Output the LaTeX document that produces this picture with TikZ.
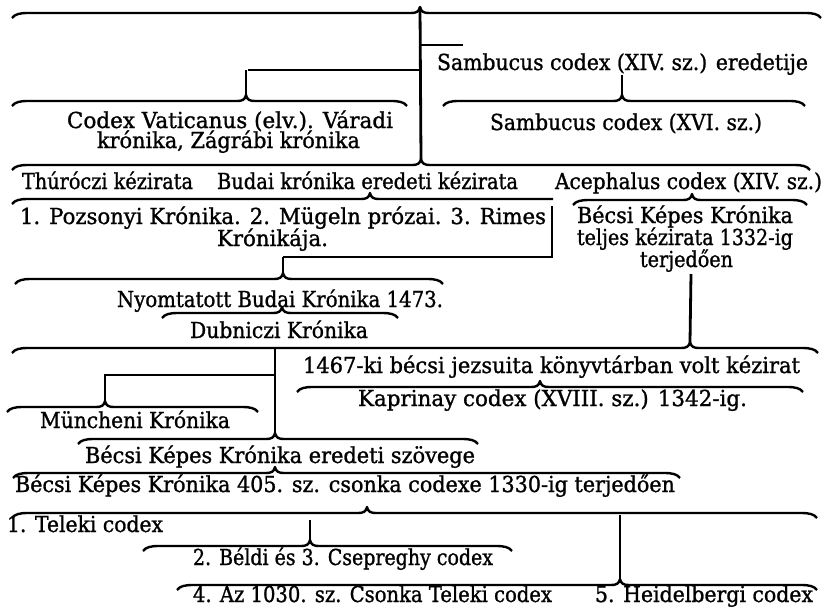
\documentclass[tikz,border=0pt]{standalone}
\usepackage{fontspec}
\setmainfont{DejaVu Serif}[FakeBold=1.2]
\usepackage{graphicx}
\newcommand\fw[2]{\resizebox{#1pt}{\height}{#2}}
% brace: x1, xc, x2, y, name of cusp coordinate
\newcommand\obr[5]{%
  \coordinate (#5) at (#2,#4-6);
  \draw[brc] (#1,#4+5) .. controls (#1+3,#4+1) and (#1+8,#4) .. (#1+16,#4) -- (#2-9,#4)
    .. controls (#2-4,#4) and (#2-1,#4-1) .. (#5)
    .. controls (#2+1,#4-1) and (#2+4,#4) .. (#2+9,#4) -- (#3-16,#4)
    .. controls (#3-8,#4) and (#3-3,#4+1) .. (#3,#4+5);}
\begin{document}
\begin{tikzpicture}[x=1pt,y=-1pt,
  brc/.style={line width=2.4pt,line join=round},
  conn/.style={line width=2.8pt},
  tx/.style={inner sep=0pt,outer sep=0pt,anchor=base west,font=\fontsize{22}{24}\selectfont}]
\useasboundingbox (0,0) rectangle (825,606);

% ---------- texts ----------
\node[tx] (t1) at (437,70) {\fw{371}{Sambucus codex (XIV. sz.) eredetije}};
\node[tx] (t2) at (67,128) {\fw{326}{Codex Vaticanus (elv.). Váradi}};
\node[tx] (t3) at (97,148) {\fw{263}{krónika, Zágrábi krónika}};
\node[tx] (t4) at (490,130) {\fw{272}{Sambucus codex (XVI. sz.)}};
\node[tx] (t5) at (22,189) {\fw{171}{Thúróczi kézirata}};
\node[tx] (t6) at (217,189) {\fw{301}{Budai krónika eredeti kézirata}};
\node[tx] (t7) at (555,189) {\fw{267}{Acephalus codex (XIV. sz.)}};
\node[tx] (t8) at (20,224) {\fw{526}{1. Pozsonyi Krónika. 2. Mügeln prózai. 3. Rimes}};
\node[tx] (t9) at (217,246) {\fw{111}{Krónikája.}};
\node[tx] (t10) at (577,223) {\fw{216}{Bécsi Képes Krónika}};
\node[tx] (t11) at (577,245) {\fw{216}{teljes kézirata 1332-ig}};
\node[tx] (t12) at (640,267) {\fw{93}{terjedően}};
\node[tx] (t13) at (117,307) {\fw{326}{Nyomtatott Budai Krónika 1473.}};
\node[tx] (t14) at (190,338) {\fw{178}{Dubniczi Krónika}};
\node[tx] (t15) at (303,373) {\fw{497}{1467-ki bécsi jezsuita könyvtárban volt kézirat}};
\node[tx] (t16) at (358,406) {\fw{389}{Kaprinay codex (XVIII. sz.) 1342-ig.}};
\node[tx] (t17) at (40,428) {\fw{190}{Müncheni Krónika}};
\node[tx] (t18) at (85,463) {\fw{390}{Bécsi Képes Krónika eredeti szövege}};
\node[tx] (t19) at (15,492) {\fw{660}{Bécsi Képes Krónika 405. sz. csonka codexe 1330-ig terjedően}};
\node[tx] (t20) at (7,532) {\fw{156}{1. Teleki codex}};
\node[tx] (t21) at (193,565) {\fw{300}{2. Béldi és 3. Csepreghy codex}};
\node[tx] (t22) at (193,602) {\fw{359}{4. Az 1030. sz. Csonka Teleki codex}};
\node[tx] (t23) at (595,602) {\fw{218}{5. Heidelbergi codex}};

% ---------- braces ----------
\obr{12}{420}{821}{13}{b1}
\obr{12}{246}{407}{101}{b2}
\obr{443}{622}{805}{101}{b3}
\obr{12}{421}{810}{165}{b4}
% brace with flat right end
\coordinate (b5) at (370,193);
\draw[brc] (12,204) .. controls (15,200) and (20,199) .. (28,199) -- (361,199)
  .. controls (366,199) and (369,198) .. (b5)
  .. controls (371,198) and (374,199) .. (379,199) -- (553,199);
\obr{573}{692}{807}{200}{b6}
\obr{15}{283}{443}{279}{b7}
\obr{162}{282}{398}{313}{b8}
\obr{12}{690}{818}{348}{b9}
\obr{7}{105}{258}{407}{b10}
\obr{297}{540}{803}{387}{b11}
\obr{78}{275}{478}{439}{b12}
\obr{13}{275}{680}{473}{b13}
\obr{12}{367}{817}{513}{b14}
\obr{143}{310}{512}{546}{b15}
\obr{177}{620}{817}{585}{b16}

% ---------- connectors ----------
\coordinate (s1) at (421,45);
\coordinate (s1e) at (463,45);
\coordinate (h1) at (421,70);
\coordinate (h1e) at (248,70);
\coordinate (v2) at (246,70);
\coordinate (v3) at (622,75);
\coordinate (v6a) at (552,206);
\coordinate (v6b) at (552,257);
\coordinate (h7) at (283,257);
\coordinate (v9) at (691,274);
\coordinate (v10) at (275,348);
\coordinate (h11a) at (275,375);
\coordinate (h11b) at (105,375);
\coordinate (v13) at (310,520);
\coordinate (v14) at (620,515);

\draw[conn] (b1) -- (b4);
\draw[conn] (s1) -- (s1e);
\draw[conn] (h1) -- (h1e);
\draw[conn] (v2) -- (b2);
\draw[conn] (v3) -- (b3);
\draw[conn] (v6a) -- (v6b) -- (h7);
\draw[conn] (h7) -- (b7);
\draw[conn] (v9) -- (b9);
\draw[conn] (v10) -- (b12);
\draw[conn] (h11a) -- (h11b) -- (b10);
\draw[conn] (v13) -- (b15);
\draw[conn] (v14) -- (b16);
\end{tikzpicture}
\end{document}
